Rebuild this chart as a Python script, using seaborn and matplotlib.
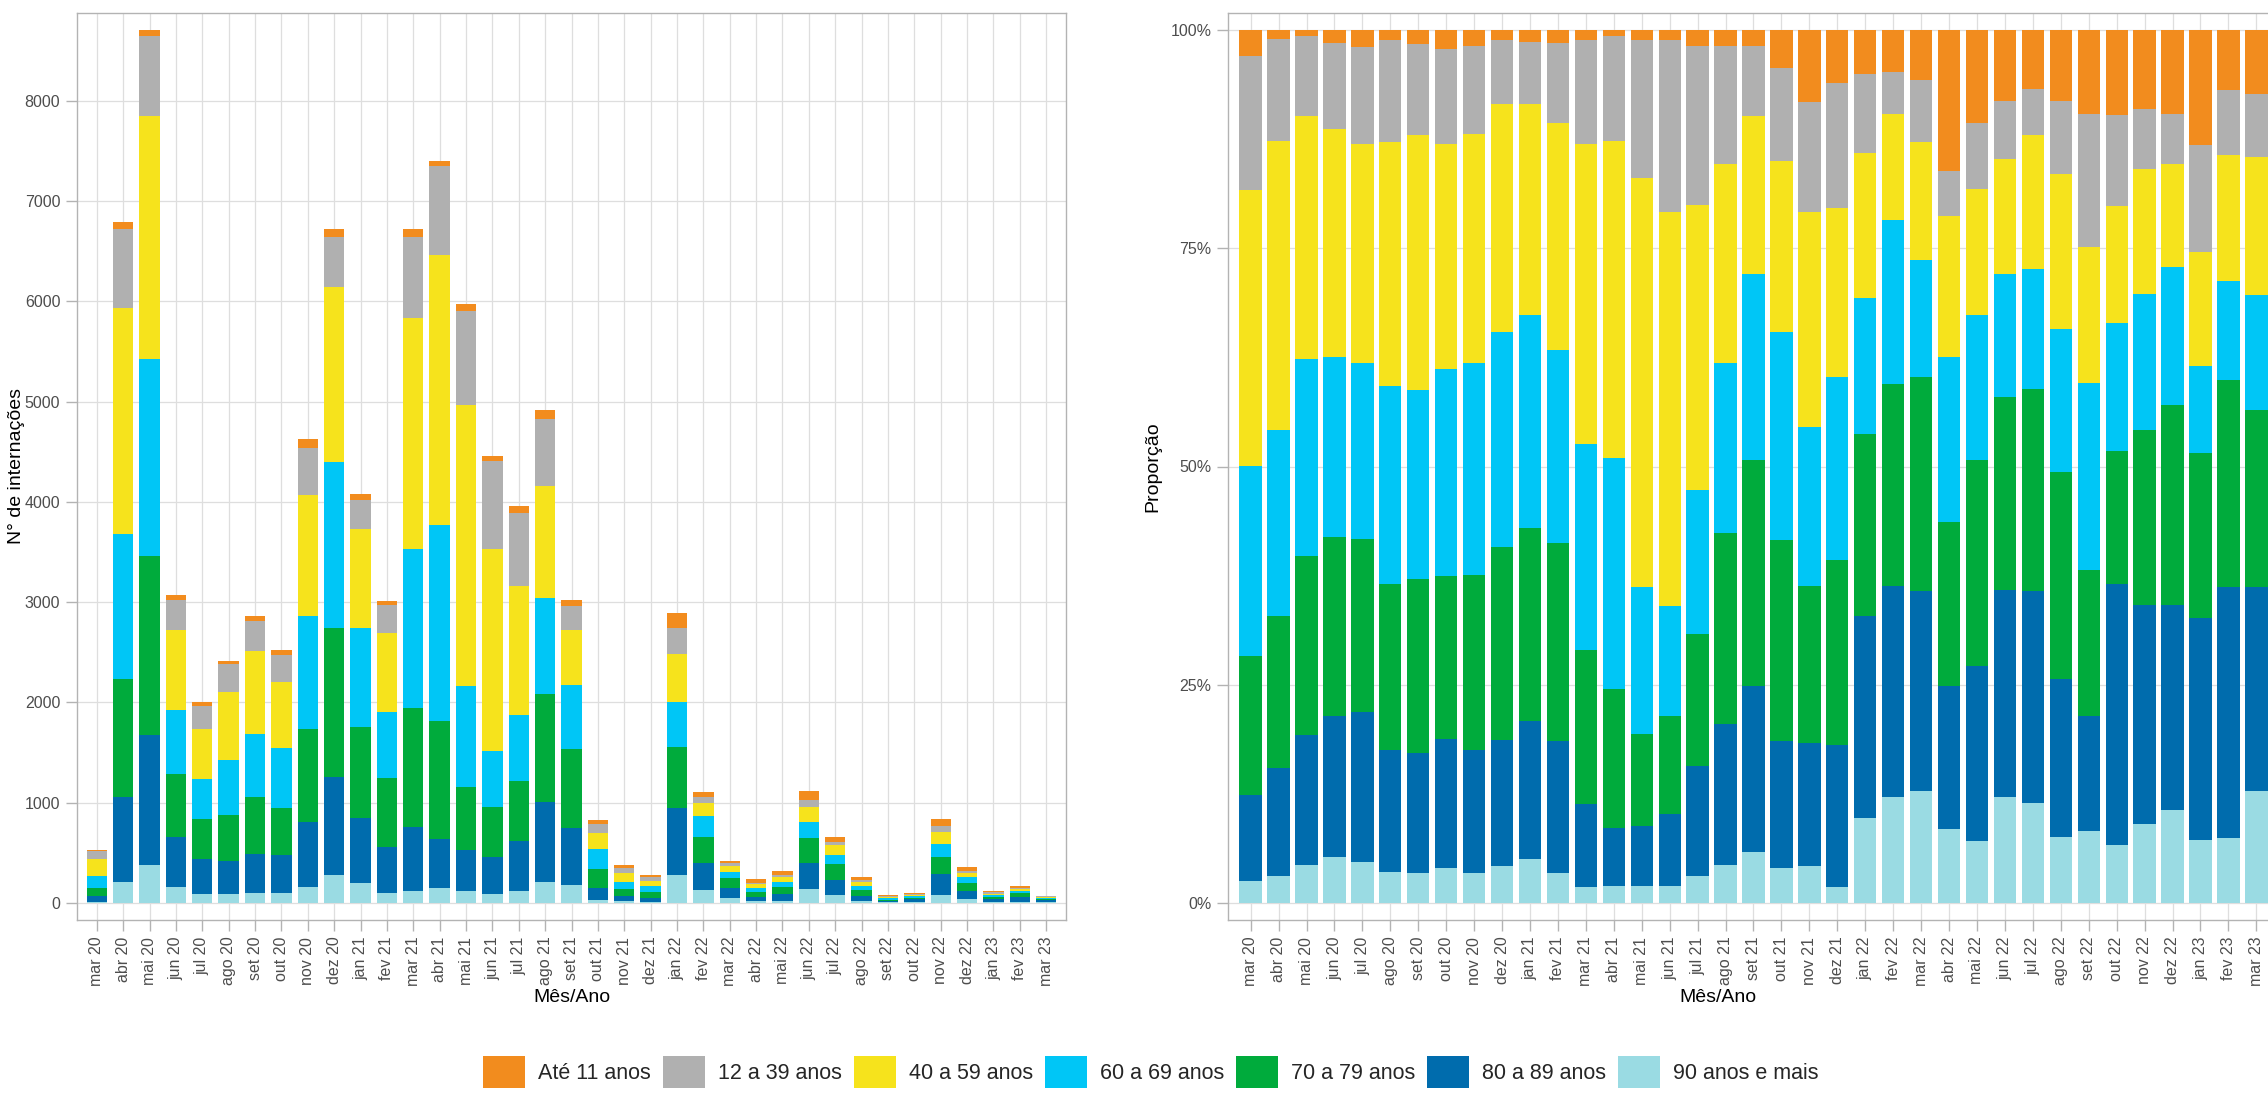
import numpy as np
import pandas as pd
import matplotlib
matplotlib.use("Agg")
import matplotlib.pyplot as plt
import seaborn as sns
from matplotlib.patches import Patch
from matplotlib.ticker import FuncFormatter, FixedLocator

# ---------------- data ----------------
months = ["mar 20", "abr 20", "mai 20", "jun 20", "jul 20", "ago 20", "set 20", "out 20",
          "nov 20", "dez 20", "jan 21", "fev 21", "mar 21", "abr 21", "mai 21", "jun 21",
          "jul 21", "ago 21", "set 21", "out 21", "nov 21", "dez 21", "jan 22", "fev 22",
          "mar 22", "abr 22", "mai 22", "jun 22", "jul 22", "ago 22", "set 22", "out 22",
          "nov 22", "dez 22", "jan 23", "fev 23", "mar 23"]

groups = ["Até 11 anos", "12 a 39 anos", "40 a 59 anos", "60 a 69 anos",
          "70 a 79 anos", "80 a 89 anos", "90 anos e mais"]

colors = ["#F28C1E", "#B0B0B0", "#F6E31C", "#00C6F6", "#00AB3C", "#006CAD", "#9ADBE3"]

# total hospitalizations per month (left panel)
total = [532, 6796, 8708, 3073, 2000, 2409, 2860, 2528, 4625, 6720,
         4076, 3017, 6720, 7401, 5975, 4458, 3957, 4917, 3021, 826, 375, 279,
         2888, 1106, 419, 241, 317, 1119, 655, 254, 82, 101, 839, 356,
         121, 165, 70]

# share (%) of each age group per month (right panel)
share_ate11 = [3.0, 1.0, 0.7, 1.5, 2.0, 1.2, 1.6, 2.2, 1.8, 1.2, 1.4, 1.5, 1.1, 0.7, 1.2, 1.2,
               1.8, 1.8, 1.8, 4.4, 8.3, 6.1, 5.0, 4.8, 5.7, 16.1, 10.6, 8.1, 6.8, 8.1, 9.6,
               9.7, 9.0, 9.6, 13.2, 6.9, 7.3]
share_12_39 = [15.3, 11.7, 9.2, 9.8, 11.1, 11.6, 10.4, 10.8, 10.1, 7.3, 7.1, 9.2, 12.0, 12.0,
               15.7, 19.6, 18.2, 13.6, 8.1, 10.6, 12.5, 14.3, 9.1, 4.8, 7.1, 5.2, 7.6, 6.7,
               5.2, 8.4, 15.3, 10.5, 6.9, 5.8, 12.2, 7.4, 7.2]
share_40_59 = [31.6, 33.2, 27.8, 26.2, 25.0, 28.0, 29.2, 25.8, 26.2, 26.1, 24.2, 26.0, 34.3,
               36.3, 46.9, 45.2, 32.7, 22.8, 18.0, 19.6, 24.7, 19.4, 16.6, 12.2, 13.5, 16.2,
               14.5, 13.1, 15.4, 17.7, 15.5, 13.4, 14.3, 11.8, 13.1, 14.4, 15.9]
share_60_69 = [21.8, 21.3, 22.5, 20.6, 20.2, 22.7, 21.7, 23.7, 24.3, 24.6, 24.3, 22.1, 23.6,
               26.5, 16.8, 12.6, 16.5, 19.4, 21.4, 23.8, 18.2, 20.9, 15.6, 18.8, 13.5, 18.9,
               16.5, 14.1, 13.7, 16.4, 21.5, 14.6, 15.6, 15.7, 10.0, 11.4, 13.1]
share_70_79 = [15.9, 17.4, 20.6, 20.5, 19.8, 19.0, 19.9, 18.7, 20.1, 22.1, 22.2, 22.6, 17.7,
               15.9, 10.6, 11.2, 15.1, 21.9, 25.9, 23.0, 18.0, 21.2, 20.8, 23.1, 24.5, 18.7,
               23.7, 22.2, 23.2, 23.7, 16.7, 15.3, 20.1, 23.0, 18.8, 23.7, 20.3]
share_80_89 = [9.9, 12.4, 14.8, 16.1, 17.2, 13.9, 13.8, 14.8, 14.1, 14.5, 15.8, 15.2, 9.5,
               6.6, 6.8, 8.2, 12.6, 16.2, 19.0, 14.6, 14.1, 16.3, 23.2, 24.2, 22.9, 16.4,
               20.0, 23.7, 24.2, 18.1, 13.1, 29.9, 25.0, 23.4, 25.5, 28.7, 23.4]
share_90 = [2.5, 3.1, 4.4, 5.3, 4.7, 3.6, 3.4, 4.0, 3.4, 4.2, 5.0, 3.4, 1.8, 2.0, 2.0, 2.0,
            3.1, 4.3, 5.8, 4.0, 4.2, 1.8, 9.7, 12.1, 12.8, 8.5, 7.1, 12.1, 11.5, 7.6, 8.3,
            6.6, 9.1, 10.7, 7.2, 7.5, 12.8]

# ---------------- build tables ----------------
shares = np.array([share_ate11, share_12_39, share_40_59, share_60_69,
                   share_70_79, share_80_89, share_90], dtype=float)
shares = shares / shares.sum(axis=0, keepdims=True)
counts = shares * np.array(total, dtype=float)

# stacking: bottom group is "90 anos e mais"; cumulative top of each group
cum_counts = np.cumsum(counts[::-1], axis=0)[::-1]    # row i = top of group i
cum_props = np.cumsum(shares[::-1], axis=0)[::-1]

rows = []
for gi, g in enumerate(groups):
    for mi, m in enumerate(months):
        rows.append({"month": m, "group": g,
                     "cum_count": cum_counts[gi, mi], "cum_prop": cum_props[gi, mi]})
df = pd.DataFrame(rows)
palette = dict(zip(groups, colors))

# ---------------- figure ----------------
sns.set_theme(style="white")
plt.rcParams["font.family"] = ["Liberation Sans", "DejaVu Sans"]

W, H = 2268, 1097
fig = plt.figure(figsize=(W / 100, H / 100), dpi=100)

def px_axes(x0, y0, x1, y1):
    return fig.add_axes([x0 / W, 1 - y1 / H, (x1 - x0) / W, (y1 - y0) / H])

axL = px_axes(77, 13, 1066, 920)
axR = px_axes(1228, 13, 2279, 920)

grid_c = "#DEDEDE"
border_c = "#B3B3B3"

for ax, ycol, width in [(axL, "cum_count", 0.77), (axR, "cum_prop", 0.80)]:
    sns.barplot(data=df, x="month", y=ycol, hue="group", hue_order=groups, order=months,
                palette=palette, dodge=False, width=width, saturation=1, errorbar=None,
                legend=False, linewidth=0, ax=ax)
    ax.set_axisbelow(True)
    ax.xaxis.grid(True, color=grid_c, lw=0.9)
    ax.yaxis.grid(True, color=grid_c, lw=0.9)
    for s in ax.spines.values():
        s.set_visible(True)
        s.set_color(border_c)
        s.set_linewidth(1.0)
    ax.set_xticks(range(len(months)))
    ax.set_xticklabels(months, rotation=90)
    ax.tick_params(axis="both", length=8, width=1, color=border_c, labelcolor="#4D4D4D",
                   labelsize=11.5, pad=4, bottom=True, left=True)
    ax.set_facecolor("white")

axL.set_xlim(-0.75, len(months) - 0.25)
axL.set_ylim(-170, 8878)
axL.yaxis.set_major_locator(FixedLocator(range(0, 9000, 1000)))
axL.yaxis.set_major_formatter(FuncFormatter(lambda v, p: f"{int(v)}"))

axR.set_xlim(-0.81, len(months) - 0.19)
axR.set_ylim(-0.0195, 1.0195)
axR.yaxis.set_major_locator(FixedLocator([0, 0.25, 0.5, 0.75, 1.0]))
axR.yaxis.set_major_formatter(FuncFormatter(lambda v, p: f"{int(round(v * 100))}%"))

axL.set_xlabel("Mês/Ano", fontsize=14, color="black")
axL.set_ylabel("N° de internações", fontsize=14, color="black")
axR.set_xlabel("Mês/Ano", fontsize=14, color="black")
axR.set_ylabel("Proporção", fontsize=14, color="black")

axL.xaxis.set_label_coords(0.5, (920 - 998) / 907)
axR.xaxis.set_label_coords((1718 - 1228) / 1051, (920 - 998) / 907)
axL.yaxis.set_label_coords((17 - 77) / 989, 0.5)
axR.yaxis.set_label_coords((1153 - 1228) / 1051, 0.5)
for lab in (axL.xaxis.label, axR.xaxis.label, axL.yaxis.label, axR.yaxis.label):
    lab.set_va("center")
    lab.set_ha("center")

handles = [Patch(facecolor=c, edgecolor="none") for c in colors]
fig.legend(handles, groups, loc="center", bbox_to_anchor=(1151 / W, 1 - 1072 / H),
           ncol=7, frameon=False, fontsize=15.5, handlelength=1.95, handleheight=1.95,
           handletextpad=0.6, columnspacing=0.56, borderaxespad=0)

fig.savefig("out.png", dpi=100, facecolor="white")
